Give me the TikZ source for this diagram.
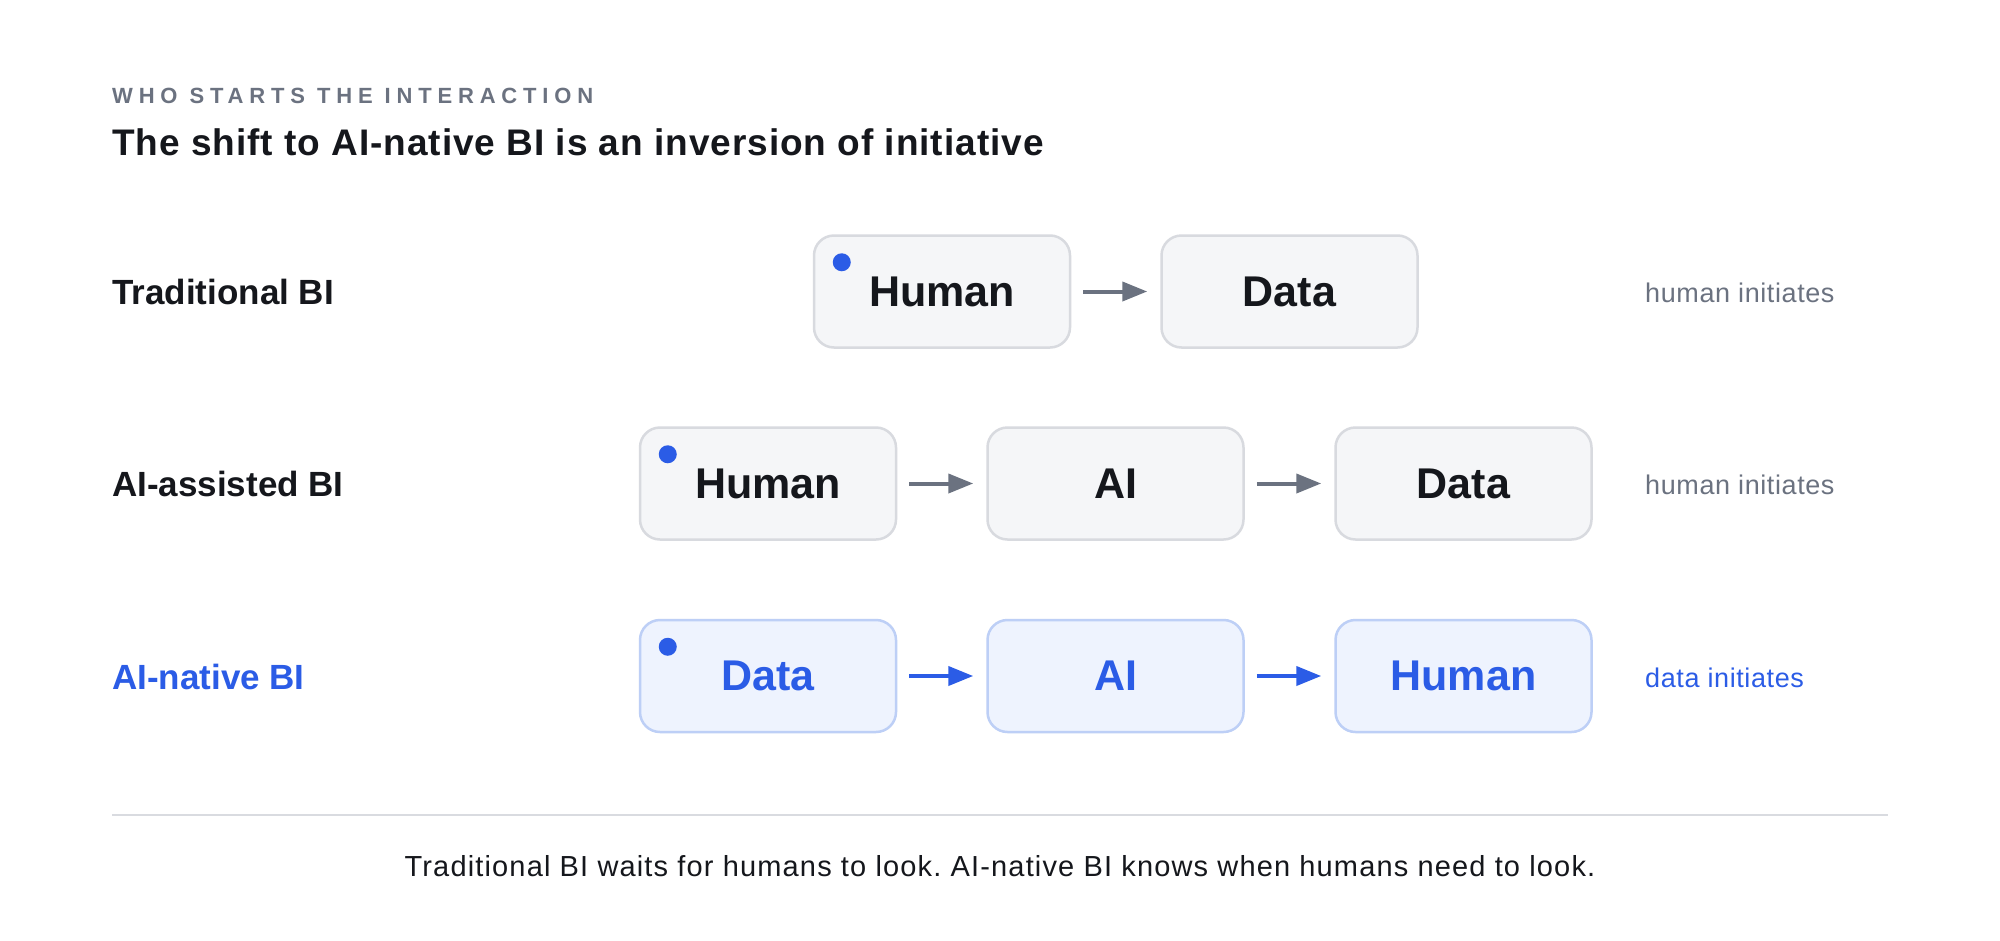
\documentclass[tikz,border=0pt]{standalone}
\usepackage{fontspec}
\setmainfont{Liberation Sans}
\usetikzlibrary{arrows.meta,calc}
\frenchspacing
\definecolor{ink}{HTML}{15171C}
\definecolor{muted}{HTML}{6B7280}
\definecolor{gfill}{HTML}{F5F6F8}
\definecolor{gline}{HTML}{D8DADF}
\definecolor{accent}{HTML}{2B5CE6}
\definecolor{bfill}{HTML}{EEF3FE}
\definecolor{bline}{HTML}{BDCFF6}
\definecolor{rule}{HTML}{D9DBE0}
\tikzset{
  box/.style={draw=gline, fill=gfill, line width=2.5pt, rounded corners=20pt,
    minimum width=256pt, minimum height=112pt, inner sep=0pt,
    text=ink, font=\fontsize{43}{50}\selectfont\bfseries},
  bluebox/.style={box, draw=bline, fill=bfill, text=accent},
  arr/.style={draw=muted, fill=muted, line width=4pt, shorten <=12pt, shorten >=13pt,
    -{Triangle[length=25pt,width=19pt]}},
  bluearr/.style={arr, draw=accent, fill=accent},
  rowlabel/.style={anchor=base west, inner sep=0pt, text=ink,
    font=\fontsize{35}{42}\selectfont\bfseries},
  sidelabel/.style={anchor=base west, inner sep=0pt, text=muted,
    font=\fontsize{27}{32}\selectfont\addfontfeature{LetterSpace=2.2}},
}
\begin{document}
\begin{tikzpicture}[x=1pt,y=-1pt]
\useasboundingbox (0,0) rectangle (2000,940);
\fill[white] (0,0) rectangle (2000,940);

\node[anchor=base west, inner sep=0pt, text=muted,
  font=\fontsize{22}{26}\selectfont\bfseries\addfontfeature{LetterSpace=26.5}]
  (kicker) at (112,103) {WHO STARTS THE INTERACTION};
\node[anchor=base west, inner sep=0pt, text=ink,
  font=\fontsize{37}{44}\selectfont\bfseries\addfontfeature{LetterSpace=2.6}]
  (title) at (112,155) {The shift to AI-native BI is an inversion of initiative};

% row 1
\node[rowlabel] (l1) at (112,304) {Traditional BI};
\node[box] (r1a) at (942,291.5) {Human};
\node[box] (r1b) at (1289.5,291.5) {Data};
\draw[arr] (r1a) -- (r1b);
\fill[accent] ($(r1a.north west)+(29,28)$) circle[radius=9pt];
\node[sidelabel] (s1) at (1645,302) {human initiates};

% row 2
\node[rowlabel] (l2) at (112,496) {AI-assisted BI};
\node[box] (r2a) at (768,483.5) {Human};
\node[box] (r2b) at (1115.5,483.5) {AI};
\node[box] (r2c) at (1463.5,483.5) {Data};
\draw[arr] (r2a) -- (r2b);
\draw[arr] (r2b) -- (r2c);
\fill[accent] ($(r2a.north west)+(29,28)$) circle[radius=9pt];
\node[sidelabel] (s2) at (1645,494) {human initiates};

% row 3
\node[rowlabel, text=accent] (l3) at (112,689) {AI-native BI};
\node[bluebox] (r3a) at (768,676) {Data};
\node[bluebox] (r3b) at (1115.5,676) {AI};
\node[bluebox] (r3c) at (1463.5,676) {Human};
\draw[bluearr] (r3a) -- (r3b);
\draw[bluearr] (r3b) -- (r3c);
\fill[accent] ($(r3a.north west)+(29,28)$) circle[radius=9pt];
\node[sidelabel, text=accent] (s3) at (1645,687) {data initiates};

% footer
\coordinate (fl) at (112,815);
\coordinate (fr) at (1888,815);
\draw[rule, line width=2pt] (fl) -- (fr);
\node[anchor=base, inner sep=0pt, text=ink,
  font=\fontsize{29}{34}\selectfont\addfontfeature{LetterSpace=4}]
  (foot) at (1000,876) {Traditional BI waits for humans to look. AI-native BI knows when humans need to look.};
\end{tikzpicture}
\end{document}
